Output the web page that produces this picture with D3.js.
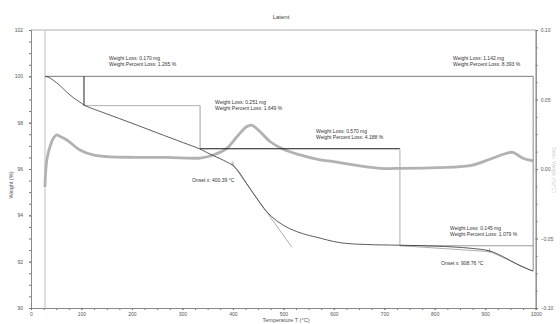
<!DOCTYPE html>
<html>
<head>
<meta charset="utf-8">
<script src="https://cdn.jsdelivr.net/npm/d3@7"></script>
<style>
  html, body { margin: 0; padding: 0; background: #fff; }
  svg { display: block; font-family: "Liberation Sans", Arial, sans-serif; }
</style>
</head>
<body>
<svg id="chart" width="560" height="324"></svg>
<script>
// ---- Data ----------------------------------------------------------
// Weight curve: temperature (°C) and weight (%)
const weightTemp = [27.7, 36, 44.2, 57.5, 70.8, 84, 97.1, 107, 150, 202, 250, 300, 335, 355, 381, 404, 427, 447, 467, 487, 513, 540, 565, 612, 665, 731, 804, 870, 909, 936, 962, 989, 995];
const weightPct  = [100, 99.95, 99.83, 99.6, 99.32, 99.08, 98.88, 98.74, 98.38, 97.96, 97.56, 97.15, 96.86, 96.64, 96.38, 96.08, 95.38, 94.74, 94.16, 93.76, 93.42, 93.2, 93.06, 92.82, 92.74, 92.71, 92.67, 92.58, 92.46, 92.21, 91.9, 91.64, 91.607];

// Derivative weight curve: temperature (°C) and deriv. weight (%/°C)
const derivTemp  = [27.7, 29, 32, 37.6, 44, 51, 57, 71, 97, 123, 150, 203, 269, 335, 361, 388, 408, 427, 437, 454, 474, 500, 533, 573, 599, 639, 691, 738, 804, 870, 909, 936, 954, 975, 995];
const derivValue = [-0.013, -0.002, 0.008, 0.016, 0.022, 0.0245, 0.0235, 0.0209, 0.0137, 0.0101, 0.0089, 0.0084, 0.0084, 0.0079, 0.0101, 0.0149, 0.0232, 0.0304, 0.0316, 0.0268, 0.0196, 0.0142, 0.0101, 0.0065, 0.0053, 0.0029, 0.0005, 0.0005, 0.001, 0.0024, 0.007, 0.0106, 0.012, 0.0077, 0.0058];

// Weight-loss steps: start/end temperature (°C) and reported losses
const stepTemps       = [27.7, 105, 335, 731, 995];
const stepLossMg      = [0.170, 0.251, 0.570, 0.145];
const stepLossPct     = [1.265, 1.649, 4.188, 1.079];
const totalLossMg     = 1.142;
const totalLossPct    = 8.393;

// Onset temperatures (°C)
const onsetTemps = [400.39, 908.76];

// Tick values
const weightTicks = [90, 92, 94, 96, 98, 100, 102];
const derivTicks  = [-0.10, -0.05, 0.00, 0.05, 0.10];
const tempTicks   = [0, 100, 200, 300, 400, 500, 600, 700, 800, 900, 1000];

// ---- Layout --------------------------------------------------------
const svg = d3.select("#chart");
const L = 31, R = 535.7, T = 30, B = 308;

const x  = d3.scaleLinear().domain([0, 1000]).range([L, R]);
const y  = d3.scaleLinear().domain([90, 102]).range([B, T]);
const y2 = d3.scaleLinear().domain([-0.10, 0.10]).range([B, T]);

const axisColor = "#8a8a8a";
const labelColor = "#555";

// Step levels: top is 100 %, the last level is set by the total loss,
// intermediate levels follow from the reported step losses.
const finalLevel = 100 - totalLossPct;
const lvl1 = 100 - stepLossPct[0];
const lvl3 = finalLevel + stepLossPct[3];
const lvl2 = lvl3 + stepLossPct[2];

// ---- Frame ---------------------------------------------------------
svg.append("line").attr("x1", L).attr("x2", R).attr("y1", T).attr("y2", T)
  .attr("stroke", "#b0b0b0").attr("stroke-width", 1);

// vertical marker at the starting temperature
svg.append("line")
  .attr("x1", x(stepTemps[0])).attr("x2", x(stepTemps[0]))
  .attr("y1", T).attr("y2", B)
  .attr("stroke", "#d4d4d4").attr("stroke-width", 1.5);

// ---- Axes ----------------------------------------------------------
function styleAxis(g) {
  g.selectAll(".domain").attr("stroke", axisColor);
  g.selectAll(".tick line").attr("stroke", "#777");
  g.selectAll("text").attr("fill", labelColor).attr("font-size", 5)
    .attr("font-family", '"Liberation Sans", Arial, sans-serif');
}

// left minor + major
svg.append("g").attr("transform", `translate(${L},0)`)
  .call(d3.axisLeft(y).tickValues(d3.range(90, 102.01, 0.5)).tickSize(2).tickFormat(""))
  .call(styleAxis);
svg.append("g").attr("transform", `translate(${L},0)`)
  .call(d3.axisLeft(y).tickValues(weightTicks).tickSize(2).tickPadding(6).tickFormat(d3.format("d")))
  .call(styleAxis);

// bottom minor + major
svg.append("g").attr("transform", `translate(0,${B})`)
  .call(d3.axisBottom(x).tickValues(d3.range(0, 1000.1, 25)).tickSize(2).tickFormat(""))
  .call(styleAxis);
svg.append("g").attr("transform", `translate(0,${B})`)
  .call(d3.axisBottom(x).tickValues(tempTicks).tickSize(2).tickPadding(2).tickFormat(d3.format("d")))
  .call(styleAxis);

// right minor + major
svg.append("g").attr("transform", `translate(${R},0)`)
  .call(d3.axisRight(y2).tickValues(d3.range(-0.1, 0.1001, 0.0125)).tickSize(2).tickFormat(""))
  .call(styleAxis);
svg.append("g").attr("transform", `translate(${R},0)`)
  .call(d3.axisRight(y2).tickValues(derivTicks).tickSize(2).tickPadding(3)
    .tickFormat(d => d3.format(".2f")(Math.abs(d) < 1e-9 ? 0 : d)))
  .call(styleAxis);

// ---- Titles --------------------------------------------------------
svg.append("text").attr("x", 281).attr("y", 19).attr("text-anchor", "middle")
  .attr("font-size", 6).attr("fill", "#444").text("Latent");

svg.append("text").attr("transform", "translate(13,185) rotate(-90)")
  .attr("text-anchor", "middle").attr("font-size", 5.5).attr("fill", labelColor)
  .text("Weight (%)");

svg.append("text").attr("x", 286).attr("y", 322).attr("text-anchor", "middle")
  .attr("font-size", 5.5).attr("fill", labelColor).text("Temperature T (°C)");

svg.append("text").attr("transform", "translate(552,170) rotate(90)")
  .attr("text-anchor", "middle").attr("font-size", 5).attr("fill", "#cfcfcf")
  .text("Deriv. Weight (%/°C)");

// ---- Derivative curve ----------------------------------------------
const derivLine = d3.line().curve(d3.curveCatmullRom.alpha(0.5))
  .x((d, i) => x(derivTemp[i])).y((d, i) => y2(derivValue[i]));
svg.append("path").datum(derivValue).attr("d", derivLine)
  .attr("fill", "none").attr("stroke", "#b2b2b2").attr("stroke-width", 2.8)
  .attr("stroke-linejoin", "round");

// ---- Step annotation lines -----------------------------------------
const steps = [
  { x1: stepTemps[0], y1: 100, x2: stepTemps[4], y2: 100, c: "#7a7a7a" },
  { x1: stepTemps[1], y1: 100, x2: stepTemps[1], y2: lvl1, c: "#222" },
  { x1: stepTemps[1], y1: lvl1, x2: stepTemps[2], y2: lvl1, c: "#b0b0b0" },
  { x1: stepTemps[2], y1: lvl1, x2: stepTemps[2], y2: lvl2, c: "#a0a0a0" },
  { x1: stepTemps[2], y1: lvl2, x2: stepTemps[3], y2: lvl2, c: "#1a1a1a" },
  { x1: stepTemps[3], y1: lvl2, x2: stepTemps[3], y2: lvl3, c: "#b0b0b0" },
  { x1: stepTemps[3], y1: lvl3, x2: stepTemps[4], y2: lvl3, c: "#9a9a9a" },
  { x1: stepTemps[4], y1: 100, x2: stepTemps[4], y2: finalLevel, c: "#8a8a8a" }
];
svg.append("g").selectAll("line").data(steps).join("line")
  .attr("x1", d => x(d.x1)).attr("y1", d => y(d.y1))
  .attr("x2", d => x(d.x2)).attr("y2", d => y(d.y2))
  .attr("stroke", d => d.c).attr("stroke-width", 1);

// ---- Onset tangents ------------------------------------------------
const tangents = [
  // first onset: steep tangent
  { t1: 397, w1: 96.28, t2: 517, w2: 92.62 },
  // second onset: baseline and steep tangents
  { t1: 731, w1: 92.69, t2: 912, w2: 92.43 },
  { t1: 903, w1: 92.5, t2: 995, w2: 91.58 }
];
svg.append("g").selectAll("line").data(tangents).join("line")
  .attr("x1", d => x(d.t1)).attr("y1", d => y(d.w1))
  .attr("x2", d => x(d.t2)).attr("y2", d => y(d.w2))
  .attr("stroke", "#a5a5a5").attr("stroke-width", 0.9);

// onset markers
const onsetLevels = [96.2, 92.45];
svg.append("g").selectAll("line").data(onsetTemps).join("line")
  .attr("x1", d => x(d)).attr("x2", d => x(d))
  .attr("y1", (d, i) => y(onsetLevels[i]) - 3).attr("y2", (d, i) => y(onsetLevels[i]) + 1.5)
  .attr("stroke", "#999").attr("stroke-width", 0.8);

// ---- Weight curve --------------------------------------------------
const weightLine = d3.line().curve(d3.curveCatmullRom.alpha(0.5))
  .x((d, i) => x(weightTemp[i])).y((d, i) => y(weightPct[i]));
svg.append("path").datum(weightPct).attr("d", weightLine)
  .attr("fill", "none").attr("stroke", "#333").attr("stroke-width", 0.8);

// ---- Annotation text -----------------------------------------------
const fmtMg = d3.format(".3f");
const notes = [
  { px: 109, py: 60, mg: stepLossMg[0], pct: stepLossPct[0] },
  { px: 215, py: 104, mg: stepLossMg[1], pct: stepLossPct[1] },
  { px: 316, py: 133, mg: stepLossMg[2], pct: stepLossPct[2] },
  { px: 453, py: 60, mg: totalLossMg, pct: totalLossPct },
  { px: 450, py: 230, mg: stepLossMg[3], pct: stepLossPct[3] }
];
const noteG = svg.append("g").attr("font-size", 5).attr("fill", "#333");
notes.forEach(n => {
  noteG.append("text").attr("x", n.px).attr("y", n.py).text(`Weight Loss: ${fmtMg(n.mg)} mg`);
  noteG.append("text").attr("x", n.px).attr("y", n.py + 5.5).text(`Weight Percent Loss: ${fmtMg(n.pct)} %`);
});

const onsetNotes = [{ px: 192, py: 182 }, { px: 441, py: 265 }];
onsetNotes.forEach((n, i) => {
  noteG.append("text").attr("x", n.px).attr("y", n.py)
    .text(`Onset x: ${d3.format(".2f")(onsetTemps[i])} °C`);
});
</script>
</body>
</html>
